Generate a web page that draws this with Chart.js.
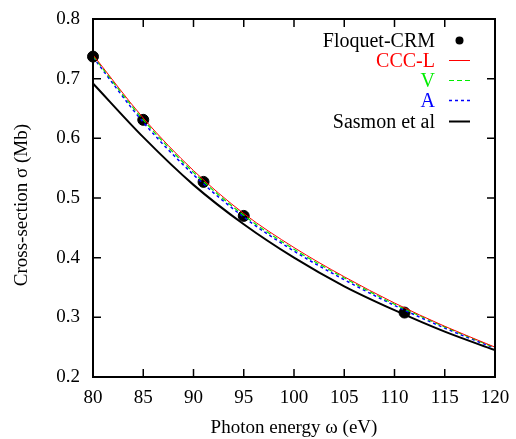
<!DOCTYPE html>
<html>
<head>
<meta charset="utf-8">
<script src="https://cdn.jsdelivr.net/npm/chart.js@4.4.0/dist/chart.umd.min.js"></script>
<style>
  html, body { margin: 0; padding: 0; background: #fff; }
  #wrap { width: 516px; height: 439px; }
</style>
</head>
<body>
<div id="wrap"><canvas id="crossChart" width="516" height="439"></canvas></div>
<script>
// photon energies (eV) where the curves are read
const energies = [80, 85, 90, 95, 100, 105, 110, 115, 120];
const cccL = [0.740, 0.634, 0.546, 0.474, 0.417, 0.368, 0.324, 0.285, 0.250];
const cccV = [0.738, 0.631, 0.543, 0.471, 0.414, 0.366, 0.322, 0.284, 0.249];
const cccA = [0.736, 0.627, 0.539, 0.468, 0.411, 0.363, 0.320, 0.282, 0.248];
const sasmon = [0.692, 0.602, 0.522, 0.456, 0.400, 0.352, 0.312, 0.276, 0.245];

// Floquet-CRM points
const floquetEnergy = [80, 85, 91, 95, 111];
const floquetSigma = [0.737, 0.631, 0.527, 0.470, 0.308];

const xTicks = [80, 85, 90, 95, 100, 105, 110, 115, 120];
const yTicks = [0.2, 0.3, 0.4, 0.5, 0.6, 0.7, 0.8];

const serif = "'Liberation Serif', 'Times New Roman', serif";

function toPoints(xs, ys) {
  return xs.map((x, i) => ({ x, y: ys[i] }));
}

function lineSet(label, values, color, width, dash) {
  return {
    label,
    data: toPoints(energies, values),
    showLine: true,
    borderColor: color,
    borderWidth: width,
    borderDash: dash,
    pointRadius: 0,
    cubicInterpolationMode: "monotone",
    legendColor: color,
    order: 0
  };
}

// inward ticks on all four sides + box
const framePlugin = {
  id: "frame",
  afterDatasetsDraw(chart) {
    const { ctx, chartArea: a, scales: { x, y } } = chart;
    ctx.save();
    ctx.strokeStyle = "#000";
    ctx.lineWidth = 1.5;
    ctx.beginPath();
    xTicks.forEach(v => {
      const px = x.getPixelForValue(v);
      ctx.moveTo(px, a.bottom); ctx.lineTo(px, a.bottom - 8);
      ctx.moveTo(px, a.top); ctx.lineTo(px, a.top + 8);
    });
    yTicks.forEach(v => {
      const py = y.getPixelForValue(v);
      ctx.moveTo(a.left, py); ctx.lineTo(a.left + 8, py);
      ctx.moveTo(a.right, py); ctx.lineTo(a.right - 8, py);
    });
    ctx.stroke();
    ctx.lineWidth = 2;
    ctx.strokeRect(a.left, a.top, a.right - a.left, a.bottom - a.top);
    ctx.restore();
  }
};

// gnuplot-style key: text right aligned, sample to the right
const keyPlugin = {
  id: "key",
  afterDraw(chart) {
    const { ctx } = chart;
    const textRight = 435, sampleL = 449, sampleR = 470;
    let rowY = 39.5;
    ctx.save();
    ctx.font = `20px ${serif}`;
    ctx.textAlign = "right";
    ctx.textBaseline = "middle";
    chart.data.datasets.forEach(ds => {
      const yy = Math.round(rowY) + 0.5;
      ctx.fillStyle = ds.legendColor;
      ctx.fillText(ds.label, textRight, yy + 1);
      if (ds.showLine) {
        ctx.strokeStyle = ds.legendColor;
        ctx.lineWidth = ds.borderWidth;
        ctx.setLineDash(ds.borderDash || []);
        ctx.beginPath();
        ctx.moveTo(sampleL, yy);
        ctx.lineTo(sampleR, yy);
        ctx.stroke();
        ctx.setLineDash([]);
      } else {
        ctx.fillStyle = ds.legendColor;
        ctx.beginPath();
        ctx.arc((sampleL + sampleR) / 2, yy, 4, 0, Math.PI * 2);
        ctx.fill();
      }
      rowY += 20.3;
    });
    ctx.restore();
  }
};

new Chart(document.getElementById("crossChart"), {
  type: "scatter",
  data: {
    datasets: [
      {
        label: "Floquet-CRM",
        data: toPoints(floquetEnergy, floquetSigma),
        showLine: false,
        backgroundColor: "#000",
        borderColor: "#000",
        pointRadius: 5.5,
        legendColor: "#000",
        clip: false,
        order: 1
      },
      lineSet("CCC-L", cccL, "#ff0000", 1, []),
      lineSet("V", cccV, "#00ee00", 1.2, [5, 3]),
      lineSet("A", cccA, "#0000ff", 1.5, [3, 3]),
      lineSet("Sasmon et al", sasmon, "#000000", 2, [])
    ]
  },
  options: {
    responsive: false,
    animation: false,
    devicePixelRatio: 1,
    layout: { padding: { left: 0, top: 19, right: 21, bottom: 0 } },
    plugins: {
      legend: { display: false },
      tooltip: { enabled: false }
    },
    scales: {
      x: {
        type: "linear",
        min: 80,
        max: 120,
        afterFit(scale) {
          scale.height = 62;
          scale.paddingLeft = 0;
          scale.paddingRight = 0;
        },
        afterBuildTicks(scale) { scale.ticks = xTicks.map(v => ({ value: v })); },
        grid: { display: false, drawTicks: false },
        border: { display: false },
        ticks: {
          color: "#000",
          padding: 10,
          maxRotation: 0,
          font: { family: serif, size: 19 },
          callback: v => String(v)
        },
        title: {
          display: true,
          text: "Photon energy ω (eV)",
          color: "#000",
          font: { family: serif, size: 19 },
          padding: { top: 0, bottom: 0 }
        }
      },
      y: {
        type: "linear",
        min: 0.2,
        max: 0.8,
        afterFit(scale) {
          scale.width = 93;
          scale.paddingTop = 0;
          scale.paddingBottom = 0;
        },
        afterBuildTicks(scale) { scale.ticks = yTicks.map(v => ({ value: v })); },
        grid: { display: false, drawTicks: false },
        border: { display: false },
        ticks: {
          color: "#000",
          padding: 13,
          font: { family: serif, size: 19 },
          callback: v => Number(v).toFixed(1)
        },
        title: {
          display: true,
          text: "Cross-section σ (Mb)   ",
          color: "#000",
          font: { family: serif, size: 19 },
          padding: { top: 11, bottom: 0 }
        }
      }
    }
  },
  plugins: [framePlugin, keyPlugin]
});
</script>
</body>
</html>
